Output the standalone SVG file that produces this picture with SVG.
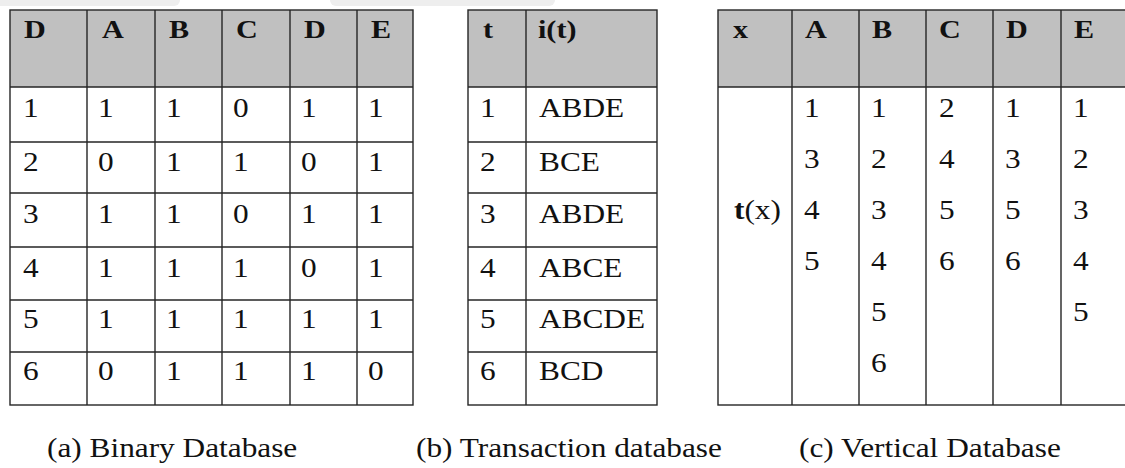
<svg xmlns="http://www.w3.org/2000/svg" width="1125" height="468" viewBox="0 0 1125 468">
  <style>
    .hdr { fill: #c0c0c0; stroke: none; }
    .grid { stroke: #262626; stroke-width: 1.4; fill: none; }
    .shade { fill: #eeeeee; }
    .t { font-family: "Liberation Serif", "Times New Roman", serif; font-size: 27px; fill: #111; }
    .h { font-family: "Liberation Serif", "Times New Roman", serif; font-size: 26px; font-weight: bold; fill: #111; }
    .cap { font-family: "Liberation Serif", "Times New Roman", serif; font-size: 27px; fill: #111; }
  </style>
  <rect width="1125" height="468" fill="#ffffff"/>

  <!-- faint bands along the top edge -->
  <g id="top-bands">
    <rect class="shade" x="-10" y="-6" width="190" height="12" rx="6"/>
    <rect class="shade" x="330" y="-6" width="225" height="12" rx="6"/>
  </g>

  <!-- (a) Binary database -->
  <g id="table-binary">
    <rect class="hdr" x="10" y="10" width="403" height="77"/>
    <g class="grid">
      <rect x="10" y="10" width="403" height="395"/>
      <path d="M87 10V405M155 10V405M222 10V405M290 10V405M357 10V405"/>
      <path d="M10 87H413M10 142H413M10 193H413M10 247H413M10 300H413M10 352H413"/>
    </g>
    <g class="h">
      <text transform="translate(24 38) scale(1.16 1)">D</text>
      <text transform="translate(102 38) scale(1.16 1)">A</text>
      <text transform="translate(169 38) scale(1.16 1)">B</text>
      <text transform="translate(236 38) scale(1.16 1)">C</text>
      <text transform="translate(304 38) scale(1.16 1)">D</text>
      <text transform="translate(371 38) scale(1.16 1)">E</text>
    </g>
    <g class="t">
      <text transform="translate(23 117) scale(1.16 1)">1</text>
      <text transform="translate(98 117) scale(1.16 1)">1</text>
      <text transform="translate(166 117) scale(1.16 1)">1</text>
      <text transform="translate(233 117) scale(1.16 1)">0</text>
      <text transform="translate(301 117) scale(1.16 1)">1</text>
      <text transform="translate(368 117) scale(1.16 1)">1</text>

      <text transform="translate(23 171) scale(1.16 1)">2</text>
      <text transform="translate(98 171) scale(1.16 1)">0</text>
      <text transform="translate(166 171) scale(1.16 1)">1</text>
      <text transform="translate(233 171) scale(1.16 1)">1</text>
      <text transform="translate(301 171) scale(1.16 1)">0</text>
      <text transform="translate(368 171) scale(1.16 1)">1</text>

      <text transform="translate(23 223) scale(1.16 1)">3</text>
      <text transform="translate(98 223) scale(1.16 1)">1</text>
      <text transform="translate(166 223) scale(1.16 1)">1</text>
      <text transform="translate(233 223) scale(1.16 1)">0</text>
      <text transform="translate(301 223) scale(1.16 1)">1</text>
      <text transform="translate(368 223) scale(1.16 1)">1</text>

      <text transform="translate(23 277) scale(1.16 1)">4</text>
      <text transform="translate(98 277) scale(1.16 1)">1</text>
      <text transform="translate(166 277) scale(1.16 1)">1</text>
      <text transform="translate(233 277) scale(1.16 1)">1</text>
      <text transform="translate(301 277) scale(1.16 1)">0</text>
      <text transform="translate(368 277) scale(1.16 1)">1</text>

      <text transform="translate(23 328) scale(1.16 1)">5</text>
      <text transform="translate(98 328) scale(1.16 1)">1</text>
      <text transform="translate(166 328) scale(1.16 1)">1</text>
      <text transform="translate(233 328) scale(1.16 1)">1</text>
      <text transform="translate(301 328) scale(1.16 1)">1</text>
      <text transform="translate(368 328) scale(1.16 1)">1</text>

      <text transform="translate(23 380) scale(1.16 1)">6</text>
      <text transform="translate(98 380) scale(1.16 1)">0</text>
      <text transform="translate(166 380) scale(1.16 1)">1</text>
      <text transform="translate(233 380) scale(1.16 1)">1</text>
      <text transform="translate(301 380) scale(1.16 1)">1</text>
      <text transform="translate(368 380) scale(1.16 1)">0</text>
    </g>
  </g>

  <!-- (b) Transaction database -->
  <g id="table-transaction">
    <rect class="hdr" x="468" y="10" width="189" height="77"/>
    <g class="grid">
      <rect x="468" y="10" width="189" height="395"/>
      <path d="M526 10V405"/>
      <path d="M468 87H657M468 142H657M468 193H657M468 247H657M468 300H657M468 352H657"/>
    </g>
    <g class="h">
      <text transform="translate(483 38) scale(1.16 1)">t</text>
      <text transform="translate(538 38) scale(1.16 1)">i(t)</text>
    </g>
    <g class="t">
      <text transform="translate(480 117) scale(1.16 1)">1</text>
      <text transform="translate(539 117) scale(1.16 1)">ABDE</text>
      <text transform="translate(480 171) scale(1.16 1)">2</text>
      <text transform="translate(539 171) scale(1.16 1)">BCE</text>
      <text transform="translate(480 223) scale(1.16 1)">3</text>
      <text transform="translate(539 223) scale(1.16 1)">ABDE</text>
      <text transform="translate(480 277) scale(1.16 1)">4</text>
      <text transform="translate(539 277) scale(1.16 1)">ABCE</text>
      <text transform="translate(480 328) scale(1.16 1)">5</text>
      <text transform="translate(539 328) scale(1.16 1)">ABCDE</text>
      <text transform="translate(480 380) scale(1.16 1)">6</text>
      <text transform="translate(539 380) scale(1.16 1)">BCD</text>
    </g>
  </g>

  <!-- (c) Vertical database: one tid-list column per item -->
  <g id="table-vertical">
    <rect class="hdr" x="718" y="10" width="412" height="77"/>
    <g class="grid">
      <rect x="718" y="10" width="412" height="395"/>
      <path d="M792 10V405M859 10V405M926 10V405M993 10V405M1061 10V405"/>
      <path d="M718 87H1130"/>
    </g>
    <g class="h">
      <text transform="translate(733 38) scale(1.16 1)">x</text>
      <text transform="translate(805 38) scale(1.16 1)">A</text>
      <text transform="translate(872 38) scale(1.16 1)">B</text>
      <text transform="translate(939 38) scale(1.16 1)">C</text>
      <text transform="translate(1006 38) scale(1.16 1)">D</text>
      <text transform="translate(1074 38) scale(1.16 1)">E</text>
    </g>
    <text class="t" transform="translate(734 219) scale(1.16 1)"><tspan font-weight="bold">t</tspan>(x)</text>
    <g class="t">
      <!-- A -->
      <text transform="translate(804 117) scale(1.16 1)">1</text>
      <text transform="translate(804 168) scale(1.16 1)">3</text>
      <text transform="translate(804 219) scale(1.16 1)">4</text>
      <text transform="translate(804 270) scale(1.16 1)">5</text>
      <!-- B -->
      <text transform="translate(871 117) scale(1.16 1)">1</text>
      <text transform="translate(871 168) scale(1.16 1)">2</text>
      <text transform="translate(871 219) scale(1.16 1)">3</text>
      <text transform="translate(871 270) scale(1.16 1)">4</text>
      <text transform="translate(871 321) scale(1.16 1)">5</text>
      <text transform="translate(871 372) scale(1.16 1)">6</text>
      <!-- C -->
      <text transform="translate(939 117) scale(1.16 1)">2</text>
      <text transform="translate(939 168) scale(1.16 1)">4</text>
      <text transform="translate(939 219) scale(1.16 1)">5</text>
      <text transform="translate(939 270) scale(1.16 1)">6</text>
      <!-- D -->
      <text transform="translate(1005 117) scale(1.16 1)">1</text>
      <text transform="translate(1005 168) scale(1.16 1)">3</text>
      <text transform="translate(1005 219) scale(1.16 1)">5</text>
      <text transform="translate(1005 270) scale(1.16 1)">6</text>
      <!-- E -->
      <text transform="translate(1073 117) scale(1.16 1)">1</text>
      <text transform="translate(1073 168) scale(1.16 1)">2</text>
      <text transform="translate(1073 219) scale(1.16 1)">3</text>
      <text transform="translate(1073 270) scale(1.16 1)">4</text>
      <text transform="translate(1073 321) scale(1.16 1)">5</text>
    </g>
  </g>

  <!-- captions -->
  <g id="captions" class="cap">
    <text transform="translate(47 457) scale(1.16 1)">(a) Binary Database</text>
    <text transform="translate(416 457) scale(1.16 1)">(b) Transaction database</text>
    <text transform="translate(799 457) scale(1.16 1)">(c) Vertical Database</text>
  </g>
</svg>
